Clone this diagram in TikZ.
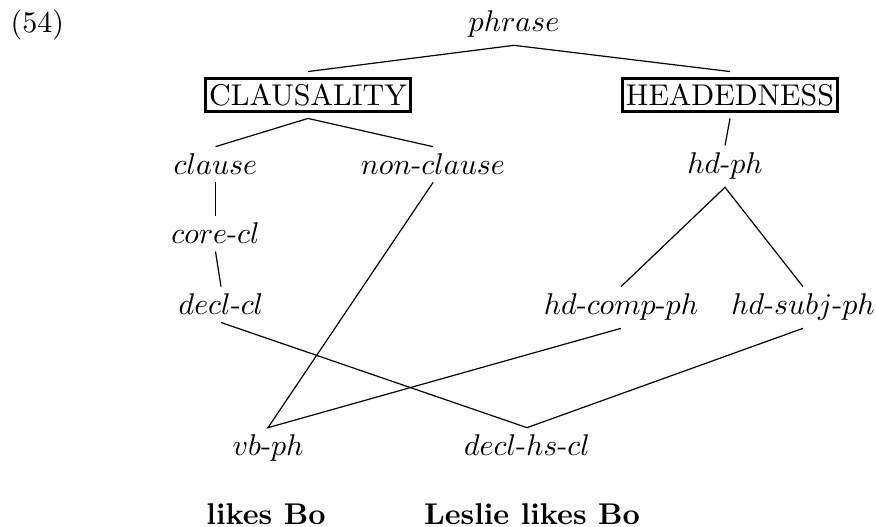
\documentclass[tikz,border=0pt]{standalone}
\usetikzlibrary{calc}
\newcommand{\hy}{\mbox{-}}
\begin{document}
\begin{tikzpicture}[x=0.3333pt,y=-0.3333pt,
  typ/.style={inner xsep=0pt, inner ysep=2.3pt, anchor=base},
  sortbox/.style={draw, line width=1pt, inner xsep=1.2pt, inner ysep=2.2pt,
                  text height=6.83pt, text depth=0pt, outer sep=2.2pt},
  link/.style={line width=0.4pt},
  exnum/.style={anchor=base west, inner sep=0pt},
  gloss/.style={anchor=base, inner sep=0pt, font=\bfseries}]
\useasboundingbox (0,0) rectangle (876,527);

% example number
\node[exnum] (num) at (10,33) {(54)};

% type hierarchy
\node[typ] (phrase)  at (514,32)  {$phrase$};
\node[sortbox] (claus) at (308,95) {CLAUSALITY};
\node[sortbox] (head)  at (730,95) {HEADEDNESS};
\node[typ] (clause)  at (215.5,175) {$clause$};
\node[typ] (nonclause) at (433,175) {$non\hy clause$};
\node[typ] (hdph)    at (725,174) {$hd\hy ph$};
\node[typ] (corecl)  at (215.5,244) {$core\hy cl$};
\node[typ] (declcl)  at (221,315) {$decl\hy cl$};
\node[typ] (hdcomp)  at (621,315) {$hd\hy comp\hy ph$};
\node[typ] (hdsubj)  at (803,315) {$hd\hy subj\hy ph$};
\node[typ] (vbph)    at (268,456) {$vb\hy ph$};
\node[typ] (declhs)  at (527,456) {$decl\hy hs\hy cl$};

% example phrases
\node[gloss] (ex1) at (266,525) {likes Bo};
\node[gloss] (ex2) at (532,525) {Leslie likes Bo};

% links
\draw[link] (claus.north) -- (phrase.south) -- (head.north);
\draw[link] (clause.north) -- (claus.south) -- (nonclause.north);
\draw[link] (head.south) -- (hdph.north);
\draw[link] (clause.south) -- (corecl.north);
\draw[link] (corecl.south) -- (declcl.north);
\draw[link] (hdcomp.north) -- (hdph.south) -- (hdsubj.north);
\draw[link] (nonclause.south) -- (vbph.north) -- (hdcomp.south);
\draw[link] (declcl.south) -- (declhs.north) -- (hdsubj.south);
\end{tikzpicture}
\end{document}
